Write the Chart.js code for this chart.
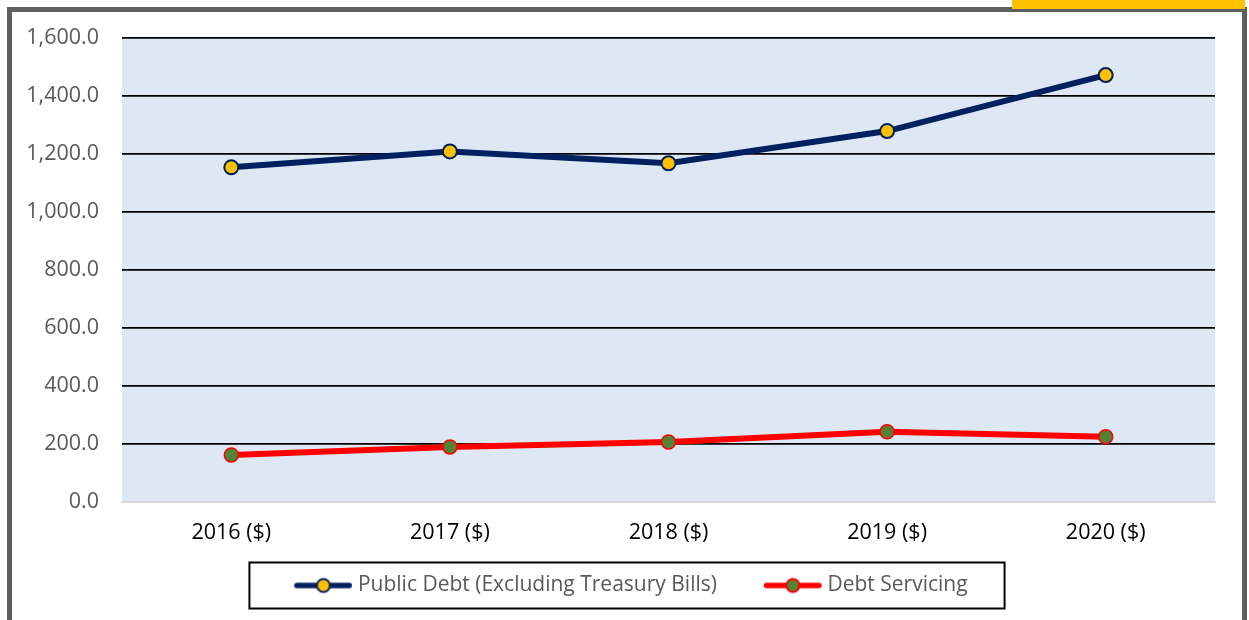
<!DOCTYPE html>
<html>
<head>
<meta charset="utf-8">
<script src="https://cdn.jsdelivr.net/npm/chart.js@4/dist/chart.umd.min.js"></script>
<style>
  html, body { margin: 0; padding: 0; background: #fff; }
  body { width: 1249px; height: 620px; position: relative; overflow: hidden; }
  .frame { position: absolute; left: 7px; top: 7px; width: 1230px; height: 700px; border: 5px solid #5f5f5f; }
  .tab { position: absolute; left: 1012px; top: 0; width: 233px; height: 9px; background: #ffc000; }
  #wrap { position: absolute; left: 0; top: 0; width: 1249px; height: 620px; }
</style>
</head>
<body>
<div class="frame"></div>
<div class="tab"></div>
<div id="wrap"><canvas id="debtChart"></canvas></div>
<script>
const years = ['2016 ($)', '2017 ($)', '2018 ($)', '2019 ($)', '2020 ($)'];
const publicDebt = [1154, 1209, 1168, 1279, 1472];
const debtServicing = [162, 190, 207, 242, 225];
const yTicks = [0, 200, 400, 600, 800, 1000, 1200, 1400, 1600];

const FONT = '"Open Sans", sans-serif';

// legend swatch: thick line with a marker in the middle, right-aligned in the image
function legendSwatch(lineColor, fillColor) {
  const c = document.createElement('canvas');
  c.width = 110; c.height = 18;
  const g = c.getContext('2d');
  g.strokeStyle = lineColor;
  g.lineWidth = 5.5;
  g.lineCap = 'round';
  g.beginPath();
  g.moveTo(54.5, 9); g.lineTo(107, 9);
  g.stroke();
  g.beginPath();
  g.arc(81, 9, 6.5, 0, Math.PI * 2);
  g.fillStyle = fillColor;
  g.fill();
  g.lineWidth = 2;
  g.strokeStyle = lineColor;
  g.stroke();
  return c;
}

const plotBg = {
  id: 'plotBg',
  beforeDraw(chart) {
    const { ctx, chartArea: a } = chart;
    ctx.save();
    ctx.fillStyle = '#dde8f4';
    ctx.fillRect(a.left, a.top, a.right - a.left, a.bottom - a.top);
    ctx.restore();
  }
};

const legendFrame = {
  id: 'legendFrame',
  afterDraw(chart) {
    const boxes = chart.legend && chart.legend.legendHitBoxes;
    if (!boxes || !boxes.length) return;
    const first = boxes[0], last = boxes[boxes.length - 1];
    const cy = first.top + first.height / 2;
    const x0 = first.left + 2;
    const x1 = last.left + last.width + 37;
    const { ctx } = chart;
    ctx.save();
    ctx.strokeStyle = '#000';
    ctx.lineWidth = 2;
    ctx.strokeRect(x0, cy - 23, x1 - x0, 46);
    ctx.restore();
  }
};

new Chart(document.getElementById('debtChart'), {
  type: 'line',
  data: {
    labels: years,
    datasets: [
      {
        label: 'Public Debt (Excluding Treasury Bills)',
        data: publicDebt,
        borderColor: '#002060',
        borderWidth: 6,
        pointRadius: 7,
        pointHoverRadius: 7,
        pointBackgroundColor: '#ffc000',
        pointBorderColor: '#002060',
        pointBorderWidth: 2,
        pointStyle: 'circle',
        tension: 0
      },
      {
        label: 'Debt Servicing',
        data: debtServicing,
        borderColor: '#ff0000',
        borderWidth: 6,
        pointRadius: 7,
        pointHoverRadius: 7,
        pointBackgroundColor: '#548235',
        pointBorderColor: '#ff0000',
        pointBorderWidth: 1.5,
        pointStyle: 'circle',
        tension: 0
      }
    ]
  },
  options: {
    responsive: true,
    maintainAspectRatio: false,
    animation: false,
    layout: { padding: { left: 0, right: 34, top: 38, bottom: 14 } },
    scales: {
      x: {
        offset: true,
        grid: { display: false },
        border: { display: true, color: '#d9d9d9', width: 2 },
        ticks: { color: '#000', font: { family: FONT, size: 21.5 }, padding: 10 },
        afterFit(scale) { scale.height = 73; }
      },
      y: {
        min: 0,
        max: 1600,
        afterBuildTicks(scale) { scale.ticks = yTicks.map(v => ({ value: v })); },
        grid: {
          drawTicks: false,
          color: ctx => ctx.tick && ctx.tick.value === 0 ? '#d9d9d9' : '#000',
          lineWidth: 1.8
        },
        border: { display: false },
        ticks: {
          color: '#595959',
          font: { family: FONT, size: 21.5 },
          padding: 23,
          callback: v => Number(v).toLocaleString('en-US', { minimumFractionDigits: 1, maximumFractionDigits: 1 })
        },
        afterFit(scale) { scale.width = 122; }
      }
    },
    plugins: {
      tooltip: { enabled: false },
      legend: {
        position: 'bottom',
        labels: {
          usePointStyle: true,
          pointStyleWidth: 100,
          padding: 0,
          color: '#595959',
          font: { family: FONT, size: 21 },
          generateLabels(chart) {
            return chart.data.datasets.map((ds, i) => ({
              text: ds.label,
              fontColor: '#595959',
              pointStyle: legendSwatch(ds.borderColor, ds.pointBackgroundColor),
              datasetIndex: i,
              hidden: false,
              lineWidth: 0
            }));
          }
        }
      }
    }
  },
  plugins: [plotBg, legendFrame]
});
</script>
</body>
</html>
